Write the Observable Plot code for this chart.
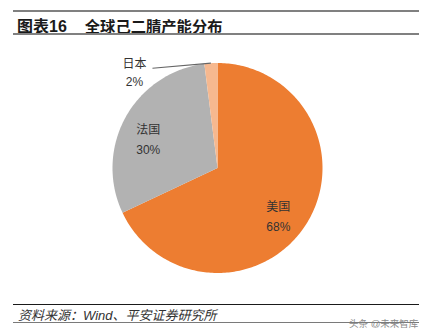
<!DOCTYPE html>
<html>
<head>
<meta charset="utf-8">
<script src="https://cdn.jsdelivr.net/npm/d3@7"></script>
<script src="https://cdn.jsdelivr.net/npm/@observablehq/plot@0.6"></script>
<style>
  html, body { margin: 0; padding: 0; background: #fff; }
  body { width: 425px; height: 336px; overflow: hidden; font-family: "Liberation Sans", "Noto Sans CJK SC", sans-serif; }
  #wrap { position: relative; width: 425px; height: 336px; }
  .hdr { position: relative; height: 40px; }
  .line { position: absolute; left: 13px; width: 406px; }
  .title { position: absolute; left: 17px; top: 13px; font-size: 16px; font-weight: bold; color: #1a1a1a; white-space: nowrap; }
  .title .t2 { font-size: 15.3px; margin-left: 18px; }
  .ftr { position: relative; height: 36px; }
  .src { position: absolute; left: 18px; top: 5px; font-size: 13px; font-style: italic; color: #333; white-space: nowrap; }
  .wm { position: absolute; left: 349px; top: 16px; font-size: 9.5px; color: #8a8a8a; white-space: nowrap; }
  svg { display: block; }
</style>
</head>
<body>
<div id="wrap">
  <div class="hdr">
    <div class="line" style="top:9.5px;height:2px;background:#808080"></div>
    <div class="title">图表16<span class="t2">全球己二腈产能分布</span></div>
    <div class="line" style="top:33px;height:2px;background:#808080"></div>
  </div>
  <div id="chart"></div>
  <div class="ftr">
    <div class="line" style="top:3.8px;height:1.6px;background:#1a1a1a"></div>
    <div class="src">资料来源：Wind、平安证券研究所</div>
    <div class="wm">头条 @未来智库</div>
    <div class="line" style="top:21.8px;height:1.5px;background:#7a7a7a"></div>
  </div>
</div>
<script>
// ---- data ----
const countries = ["美国", "法国", "日本"];
const shares = [68, 30, 2];
const colors = ["#ED7D31", "#B2B2B2", "#F6B88F"];

// ---- layout constants (code, not data) ----
const R = 1;            // unit radius in scale space
const labelR = 0.72;    // inside label radius
const steps = 360;

const pie = d3.pie().sort(null).value(d => d.value);
const rows = countries.map((c, i) => ({name: c, value: shares[i], color: colors[i]}));
const arcs = pie(rows);

// polygon points for each slice
const slicePts = [];
for (const a of arcs) {
  const n = Math.max(2, Math.ceil((a.endAngle - a.startAngle) / (2 * Math.PI) * steps));
  slicePts.push({name: a.data.name, x: 0, y: 0});
  for (let k = 0; k <= n; k++) {
    const t = a.startAngle + (a.endAngle - a.startAngle) * k / n;
    slicePts.push({name: a.data.name, x: R * Math.sin(t), y: R * Math.cos(t)});
  }
  slicePts.push({name: a.data.name, x: 0, y: 0});
}

// labels: big slices inside, small slice outside with leader
const inside = [], outside = [], leaders = [];
for (const a of arcs) {
  const mid = (a.startAngle + a.endAngle) / 2;
  const txt = `${a.data.name}\n${a.data.value}%`;
  if (a.data.value >= 10) {
    inside.push({x: labelR * Math.sin(mid), y: labelR * Math.cos(mid), text: txt});
  } else {
    const ang = mid - 29.5 * Math.PI / 180, rr = 1.134;
    const ax = rr * Math.sin(ang), ay = rr * Math.cos(ang);
    leaders.push({x1: R * Math.sin(mid), y1: R * Math.cos(mid), x2: ax, y2: ay});
    outside.push({x: ax, y: ay, text: txt});
  }
}

const font = "Liberation Sans, Noto Sans CJK SC, sans-serif";
const chart = Plot.plot({
  width: 425,
  height: 260,
  marginLeft: 112,
  marginRight: 103,
  marginTop: 22.5,
  marginBottom: 27.5,
  x: {domain: [-1, 1], axis: null},
  y: {domain: [-1, 1], axis: null},
  color: {domain: countries, range: colors},
  style: {fontFamily: font, background: "white"},
  marks: [
    Plot.line(slicePts, {x: "x", y: "y", z: "name", fill: "name", stroke: "none", curve: "linear"}),
    Plot.link(leaders, {x1: "x1", y1: "y1", x2: "x2", y2: "y2", stroke: "#666", strokeWidth: 1.2}),
    Plot.text(inside, {x: "x", y: "y", text: "text", fontSize: 12, lineHeight: 1.65, fill: "#333", dx: -3, dy: 6}),
    Plot.text(outside, {x: "x", y: "y", text: "text", fontSize: 12, lineHeight: 1.5, fill: "#333", dx: -18, dy: 3})
  ]
});
document.getElementById("chart").appendChild(chart);
</script>
</body>
</html>
